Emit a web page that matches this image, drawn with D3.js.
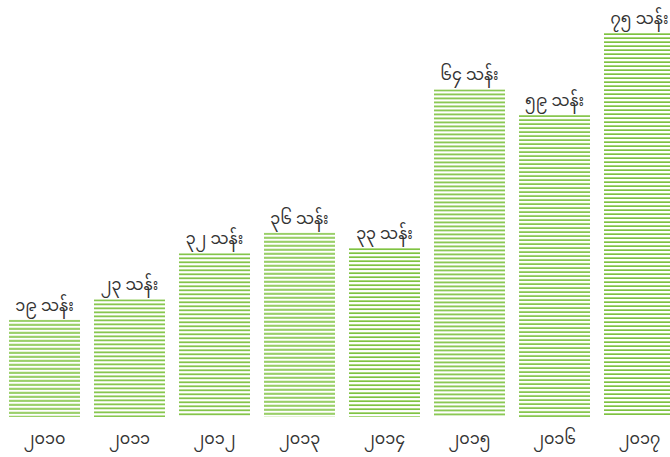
<!DOCTYPE html>
<html><head><meta charset="utf-8">
<script src="https://cdn.jsdelivr.net/npm/d3@7/dist/d3.min.js"></script>
<style>html,body{margin:0;padding:0;background:#fff;overflow:hidden;}svg{display:block;}</style>
</head><body>
<svg id="c" width="670" height="457"></svg>
<script>
const years = ["၂၀၁၀","၂၀၁၁","၂၀၁၂","၂၀၁၃","၂၀၁၄","၂၀၁၅","၂၀၁၆","၂၀၁၇"];
const values = [19, 23, 32, 36, 33, 64, 59, 75];
const valueLabels = ["၁၉ သန်း","၂၃ သန်း","၃၂ သန်း","၃၆ သန်း","၃၃ သန်း","၆၄ သန်း","၅၉ သန်း","၇၅ သန်း"];

const svg = d3.select("#c");
const font = "'Noto Sans Myanmar','Noto Sans','DejaVu Sans',sans-serif";
const x = d3.scaleBand().domain(years).range([9, 675]).paddingInner(14/85).paddingOuter(0);
const y = d3.scaleLinear().domain([0, 75]).range([417, 33]);

const defs = svg.append("defs");
const pat = defs.append("pattern").attr("id","stripes").attr("patternUnits","userSpaceOnUse")
  .attr("width", 8).attr("height", 4);
pat.append("rect").attr("x",0).attr("y",0).attr("width",8).attr("height",4).attr("fill","#fff");
pat.append("rect").attr("x",0).attr("y",0).attr("width",8).attr("height",1).attr("fill","#a8d67a");
pat.append("rect").attr("x",0).attr("y",1).attr("width",8).attr("height",1).attr("fill","#7dc142");

const g = svg.selectAll("g.bar").data(values).enter().append("g").attr("class","bar")
  .attr("transform",(d,i)=>`translate(${x(years[i])},${y(d)})`);
g.append("rect").attr("x",0).attr("y",0).attr("width",x.bandwidth())
  .attr("height",d=>y(0)-y(d)).attr("fill","url(#stripes)");
g.append("text").attr("x",x.bandwidth()/2).attr("y",-9).attr("text-anchor","middle")
  .attr("font-family",font).attr("font-size",16).attr("fill","#333")
  .text((d,i)=>valueLabels[i]);

const axis = d3.axisBottom(x).tickSize(0).tickPadding(0);
const ax = svg.append("g").attr("transform","translate(0,433)").call(axis);
ax.select(".domain").remove();
ax.selectAll("text").attr("font-family",font).attr("font-size",16).attr("fill","#333");
</script>
</body></html>
